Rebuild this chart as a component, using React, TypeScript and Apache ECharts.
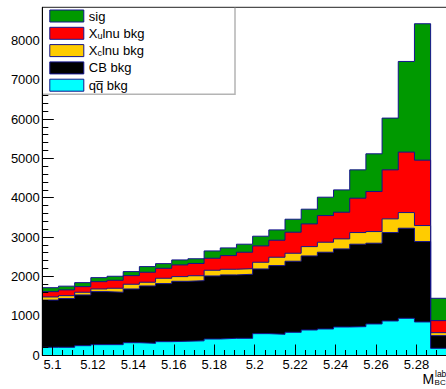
import React, { useEffect, useRef } from 'react';
import * as echarts from 'echarts';

// Histogram binning (25 bins)
const X_MIN = 5.095;
const X_MAX = 5.295;
const BIN_WIDTH = 0.008;
const Y_MAX = 8840;

// Per-bin contents of each component
const QQ_BKG = [196, 196, 237, 263, 263, 313, 297, 339, 350, 360, 407, 424, 424, 543, 526, 577, 636, 662, 712, 721, 789, 865, 933, 840, 170];
const CB_BKG = [1200, 1239, 1290, 1348, 1332, 1366, 1459, 1476, 1524, 1530, 1603, 1612, 1629, 1645, 1747, 1807, 1883, 1951, 1985, 2096, 2053, 2248, 2290, 2044, 322];
const XC_BKG = [80, 74, 68, 68, 102, 120, 94, 136, 119, 125, 145, 144, 142, 170, 213, 203, 237, 254, 255, 296, 296, 348, 398, 407, 76];
const XU_BKG = [135, 146, 143, 186, 203, 219, 254, 254, 297, 312, 305, 347, 418, 416, 432, 535, 577, 678, 678, 874, 1018, 1246, 1537, 1663, 306];
const SIG = [100, 95, 102, 102, 102, 102, 143, 118, 127, 120, 186, 196, 204, 246, 263, 330, 374, 467, 568, 720, 959, 1316, 2305, 3468, 568];

const X_TICK_LABELS = ['5.1', '5.12', '5.14', '5.16', '5.18', '5.2', '5.22', '5.24', '5.26', '5.28'];
const Y_TICK_LABELS = ['0', '1000', '2000', '3000', '4000', '5000', '6000', '7000', '8000'];

const FONT = '"Liberation Sans", Arial, Helvetica, sans-serif';
const OUTLINE = '#14148c';

// stacked from bottom to top
const LAYERS = [
  { name: 'qq\u0305 bkg', vals: QQ_BKG, color: '#00ffff' },
  { name: 'CB bkg', vals: CB_BKG, color: '#000000' },
  { name: 'X_clnu bkg', vals: XC_BKG, color: '#ffcc00' },
  { name: 'X_ulnu bkg', vals: XU_BKG, color: '#ff0000' },
  { name: 'sig', vals: SIG, color: '#009900' },
];

function stepData(vals: number[]) {
  const pts: number[][] = vals.map((v, i) => [X_MIN + i * BIN_WIDTH, v]);
  pts.push([X_MAX, vals[vals.length - 1]]);
  return pts;
}

export default function App() {
  const ref = useRef<HTMLDivElement>(null);
  useEffect(() => {
    if (!ref.current) return;
    const chart = echarts.init(ref.current, undefined, { renderer: 'svg' });

    let cum = LAYERS[0].vals.map(() => 0);
    const cumulative = LAYERS.map((l) => {
      cum = cum.map((c, i) => c + l.vals[i]);
      return cum;
    });

    const series = LAYERS.map((l, k) => ({
      type: 'line',
      name: l.name,
      step: 'end',
      symbol: 'none',
      showSymbol: false,
      silent: true,
      z: 10 - k,
      xAxisIndex: 0,
      yAxisIndex: 0,
      data: stepData(cumulative[k]),
      color: l.color,
      itemStyle: { color: l.color },
      lineStyle: { color: OUTLINE, width: 1 },
      areaStyle: { color: l.color, opacity: 1 },
    }));

    const xMajor = X_TICK_LABELS.map(Number);
    const yMajor = Y_TICK_LABELS.map(Number);
    const xMinor: number[] = [];
    for (let k = 0; k <= 40; k++) xMinor.push(+(X_MIN + k * 0.005).toFixed(3));
    const yMinor: number[] = [];
    for (let v = 0; v <= 8800; v += 200) yMinor.push(v);

    const labelFont = { fontSize: 13, fontFamily: FONT, color: '#000' };

    const legendLabel: Record<string, string> = {
      'sig': 'sig',
      'X_ulnu bkg': 'X{sub|u}lnu bkg',
      'X_clnu bkg': 'X{sub|c}lnu bkg',
      'CB bkg': 'CB bkg',
      'qq\u0305 bkg': 'qq\u0305 bkg',
    };

    chart.setOption({
      animation: false,
      grid: { left: 42.3, top: 7.3, width: 404.5, height: 347.7, show: true, borderColor: '#222', borderWidth: 1, backgroundColor: 'transparent', outerBoundsMode: 'none' },
      xAxis: [
        {
          type: 'value', min: X_MIN, max: X_MAX, position: 'bottom', z: 20,
          axisLine: { show: true, onZero: false, lineStyle: { color: '#000', width: 1 } },
          axisTick: { show: true, inside: true, length: 10.5, customValues: xMajor, lineStyle: { color: '#000', width: 1 } },
          axisLabel: { show: true, customValues: xMajor, margin: 3, ...labelFont, formatter: (v: number) => X_TICK_LABELS[xMajor.findIndex((m) => Math.abs(m - v) < 1e-6)] ?? '' },
          splitLine: { show: false },
        },
        {
          type: 'value', min: X_MIN, max: X_MAX, position: 'bottom', z: 20,
          axisLine: { show: false },
          axisTick: { show: true, inside: true, length: 5, customValues: xMinor, lineStyle: { color: '#000', width: 1 } },
          axisLabel: { show: false },
          splitLine: { show: false },
        },
      ],
      yAxis: [
        {
          type: 'value', min: 0, max: Y_MAX, position: 'left', z: 20,
          axisLine: { show: true, onZero: false, lineStyle: { color: '#000', width: 1 } },
          axisTick: { show: true, inside: true, length: 11.5, customValues: yMajor, lineStyle: { color: '#000', width: 1 } },
          axisLabel: { show: true, customValues: yMajor, margin: 2.5, ...labelFont, formatter: (v: number) => Y_TICK_LABELS[yMajor.indexOf(Math.round(v))] ?? '' },
          splitLine: { show: false },
        },
        {
          type: 'value', min: 0, max: Y_MAX, position: 'left', z: 20,
          axisLine: { show: false },
          axisTick: { show: true, inside: true, length: 6, customValues: yMinor, lineStyle: { color: '#000', width: 1 } },
          axisLabel: { show: false },
          splitLine: { show: false },
        },
      ],
      legend: {
        show: true,
        z: 60,
        orient: 'vertical',
        left: 49.3,
        top: 9,
        padding: 0,
        itemWidth: 34,
        itemHeight: 12,
        itemGap: 3.3,
        icon: 'rect',
        selectedMode: false,
        itemStyle: { borderColor: OUTLINE, borderWidth: 1 },
        data: ['sig', 'X_ulnu bkg', 'X_clnu bkg', 'CB bkg', 'qq\u0305 bkg'].map((n) => {
          const l = LAYERS.find((x) => x.name === n)!;
          return { name: n, itemStyle: { color: l.color, borderColor: OUTLINE, borderWidth: 1 } };
        }),
        formatter: (n: string) => legendLabel[n] ?? n,
        textStyle: {
          fontSize: 13, fontFamily: FONT, color: '#000', lineHeight: 14,
          rich: {
            sub: { fontSize: 9, fontFamily: FONT, color: '#000', verticalAlign: 'bottom', lineHeight: 14 },
          },
        },
      },
      graphic: [
        { type: 'rect', z: 50, shape: { x: 43, y: 8, width: 192, height: 86 }, style: { fill: '#fff' } },
        { type: 'polyline', z: 51, shape: { points: [[235, 7.8], [235, 94.3], [43, 94.3]] }, style: { stroke: '#b4b4b4', lineWidth: 1.5, fill: null } },
        { type: 'text', z: 51, x: 422.5, y: 378.5, style: { text: 'M', font: `14px ${FONT}`, fill: '#000', verticalAlign: 'middle', textVerticalAlign: 'middle' } },
        { type: 'text', z: 51, x: 435, y: 373.8, style: { text: 'lab', font: `8.5px ${FONT}`, fill: '#000', verticalAlign: 'middle', textVerticalAlign: 'middle' } },
        { type: 'text', z: 51, x: 434.6, y: 382.3, style: { text: 'BC', font: `8px ${FONT}`, fill: '#000', verticalAlign: 'middle', textVerticalAlign: 'middle' } },
      ],
      series,
    });

    return () => chart.dispose();
  }, []);

  return (
    <div style={{ position: 'fixed', left: 0, top: 0, width: 446, height: 389, overflow: 'hidden', background: '#fff' }}>
      <div ref={ref} style={{ width: 452, height: 389 }} />
    </div>
  );
}
